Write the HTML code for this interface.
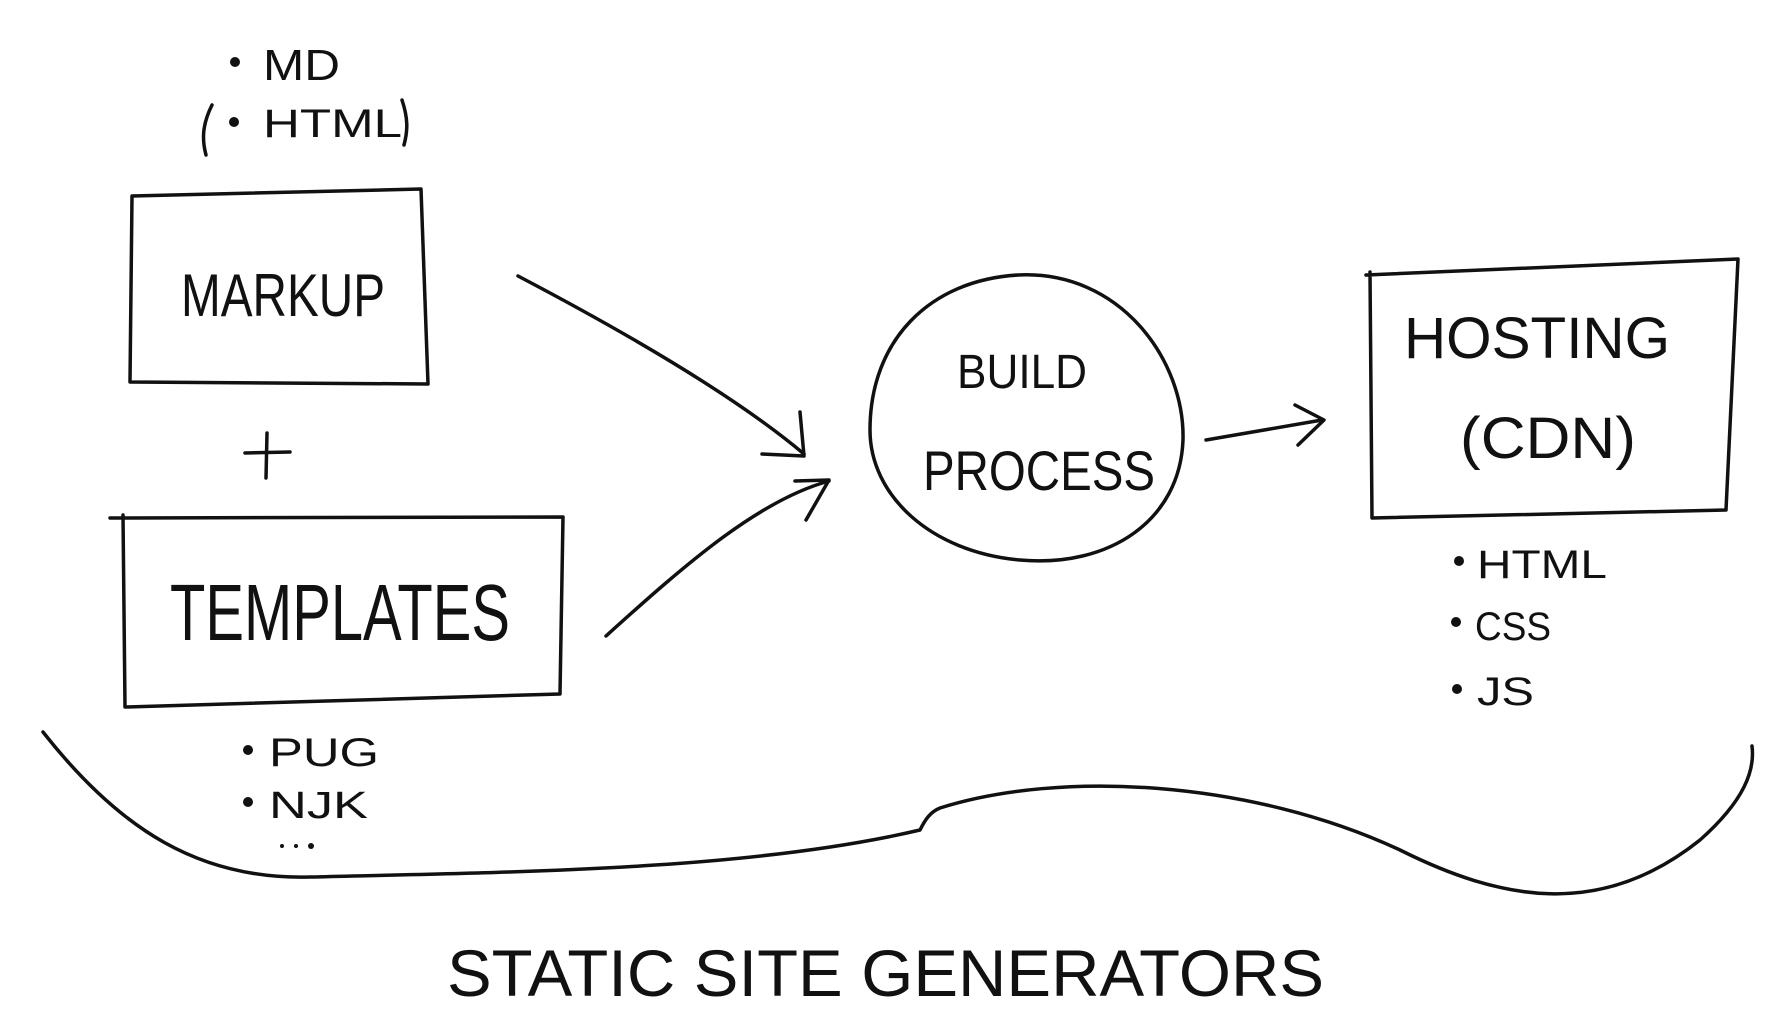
<!DOCTYPE html>
<html><head><meta charset="utf-8"><style>
html,body{margin:0;padding:0;background:#fff;}
svg{display:block;}
text{font-family:"Liberation Sans",sans-serif;fill:#111;}
</style></head><body>
<svg width="1766" height="1033" viewBox="0 0 1766 1033" xmlns="http://www.w3.org/2000/svg">
<g fill="none" stroke="#111" stroke-width="3.5" stroke-linecap="round" stroke-linejoin="round">
<path d="M132 196 L421 189 L428 384 L130 382 Z"/>
<path d="M110 518 L563 517 L560 694 L125 707 L123 515"/>
<path d="M1018 275 C1120 270 1185 360 1183 440 C1180 520 1110 568 1020 560 C930 552 870 495 870 430 C870 340 930 280 1018 275 Z"/>
<path d="M1366 275 L1738 259 L1726 510 L1372 518 L1370 272"/>
<path d="M518 276 C640 340 740 400 804 454"/>
<path d="M762 454 L804 456 L800 412"/>
<path d="M606 636 C690 560 760 500 829 481"/>
<path d="M795 481 L829 480 L806 520"/>
<path d="M1206 440 L1322 420"/>
<path d="M1295 405 L1324 420 L1298 445"/>
<path d="M212 105 C202 125 202 140 206 155"/>
<path d="M402 100 C408 118 408 130 404 145"/>
<path d="M245 453 L290 452"/><path d="M267 433 L266 478"/>
<path d="M43 732 C120 830 200 880 310 877 C520 872 750 870 920 830 C925 820 930 812 940 808 C1060 770 1250 780 1400 850 C1500 900 1600 920 1700 840 C1745 800 1755 770 1752 746"/>
</g>
<g fill="#111">
<circle cx="235" cy="62" r="5"/><circle cx="234" cy="122" r="5"/>
<circle cx="248" cy="750" r="5"/><circle cx="248" cy="802" r="5"/>
<circle cx="282" cy="846" r="2"/><circle cx="296" cy="846" r="2"/><circle cx="311" cy="846" r="3"/>
<circle cx="1459" cy="561" r="5"/><circle cx="1456" cy="622" r="5"/><circle cx="1457" cy="689" r="5"/>
</g>
<g lengthAdjust="spacingAndGlyphs">
<text x="263" y="80" font-size="44" textLength="77" lengthAdjust="spacingAndGlyphs">MD</text>
<text x="263" y="137" font-size="40" textLength="139" lengthAdjust="spacingAndGlyphs">HTML</text>
<text x="181" y="316" font-size="60" textLength="204" lengthAdjust="spacingAndGlyphs">MARKUP</text>
<text x="170" y="640" font-size="80" textLength="340" lengthAdjust="spacingAndGlyphs">TEMPLATES</text>
<text x="957" y="388" font-size="48" textLength="130" lengthAdjust="spacingAndGlyphs">BUILD</text>
<text x="923" y="490" font-size="56" textLength="232" lengthAdjust="spacingAndGlyphs">PROCESS</text>
<text x="1404" y="358" font-size="58" textLength="266" lengthAdjust="spacingAndGlyphs">HOSTING</text>
<text x="1460" y="458" font-size="58" textLength="176" lengthAdjust="spacingAndGlyphs">(CDN)</text>
<text x="1477" y="578" font-size="40" textLength="130" lengthAdjust="spacingAndGlyphs">HTML</text>
<text x="1475" y="640" font-size="40" textLength="76" lengthAdjust="spacingAndGlyphs">CSS</text>
<text x="1477" y="705" font-size="40" textLength="57" lengthAdjust="spacingAndGlyphs">JS</text>
<text x="269" y="766" font-size="40" textLength="110" lengthAdjust="spacingAndGlyphs">PUG</text>
<text x="269" y="818" font-size="38" textLength="99" lengthAdjust="spacingAndGlyphs">NJK</text>
<text x="447" y="996" font-size="66" textLength="877" lengthAdjust="spacingAndGlyphs">STATIC SITE GENERATORS</text>
</g>
</svg>
</body></html>
